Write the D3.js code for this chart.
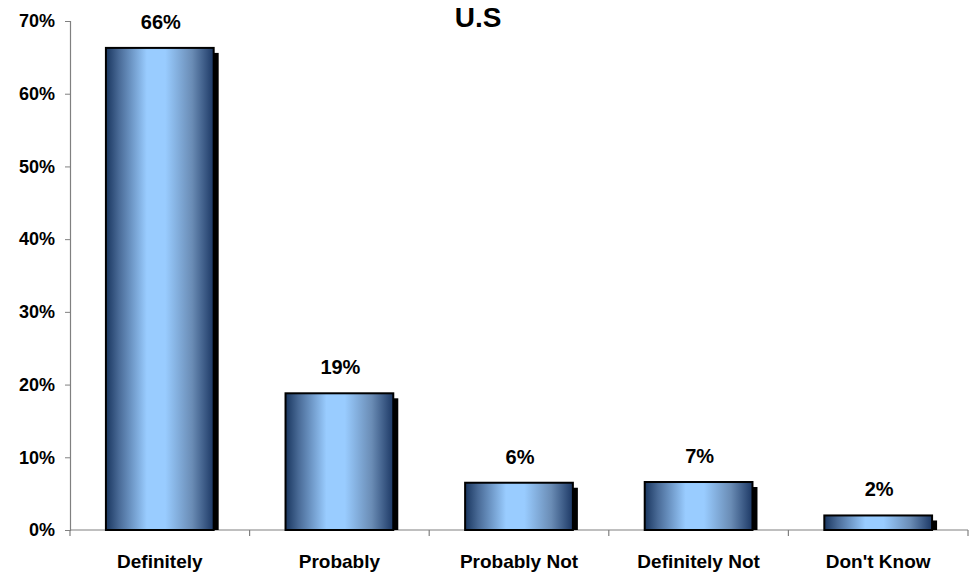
<!DOCTYPE html>
<html>
<head>
<meta charset="utf-8">
<script src="https://cdn.jsdelivr.net/npm/d3@7"></script>
<style>
html,body{margin:0;padding:0;background:#fff;}
svg{display:block;font-family:"Liberation Sans",Arial,sans-serif;font-weight:bold;}
</style>
</head>
<body>
<svg id="chart" width="970" height="574"></svg>
<script>
const title = "U.S";
const categories = ["Definitely", "Probably", "Probably Not", "Definitely Not", "Don't Know"];
const values = [66.3, 18.8, 6.5, 6.6, 2.0];
const valueLabels = ["66%", "19%", "6%", "7%", "2%"];
const yTicks = [0, 10, 20, 30, 40, 50, 60, 70];

const svg = d3.select("#chart");
const margin = {left: 70, right: 2, top: 21, bottom: 44};
const W = 970, H = 574;
const x0 = margin.left, x1 = W - margin.right;
const y0 = H - margin.bottom, y1 = margin.top;

const x = d3.scaleBand().domain(categories).range([x0, x1]).paddingInner(0.4).paddingOuter(0.2);
const xTickScale = d3.scaleLinear().domain([0, categories.length]).range([x0, x1]);
const y = d3.scaleLinear().domain([0, 70]).range([y0, y1]);

const defs = svg.append("defs");
const grad = defs.append("linearGradient").attr("id", "barGrad").attr("x1", "0").attr("x2", "1").attr("y1", "0").attr("y2", "0");
[[0, "#19365f"], [0.12, "#496a96"], [0.38, "#99ccff"], [0.55, "#99ccff"], [0.8, "#6a8cb5"], [1, "#1c3865"]]
  .forEach(([o, c]) => grad.append("stop").attr("offset", o).attr("stop-color", c));
defs.append("clipPath").attr("id", "plotClip").append("rect")
  .attr("x", x0).attr("y", 0).attr("width", x1 - x0).attr("height", y0);

// Title
svg.append("text").attr("x", 478).attr("y", 27).attr("text-anchor", "middle")
  .attr("font-size", 28).attr("fill", "#000").text(title);

// Y axis
const yAxis = svg.append("g").attr("transform", `translate(${x0},0)`)
  .call(d3.axisLeft(y).tickValues(yTicks).tickFormat(d => d + "%").tickSize(5).tickPadding(10));
yAxis.select(".domain").attr("stroke", "#808080").attr("stroke-width", 1.2);
yAxis.selectAll(".tick line").attr("stroke", "#808080");
yAxis.selectAll(".tick text").attr("font-size", 18).attr("font-weight", "bold")
  .attr("font-family", "'Liberation Sans',Arial,sans-serif").attr("fill", "#000");

// X axis line and ticks
const xg = svg.append("g");
xg.append("line").attr("x1", x0).attr("x2", x1).attr("y1", y0).attr("y2", y0)
  .attr("stroke", "#808080").attr("stroke-width", 1.2);
xg.selectAll("line.tk").data(d3.range(categories.length + 1)).enter().append("line")
  .attr("class", "tk")
  .attr("x1", d => xTickScale(d)).attr("x2", d => xTickScale(d))
  .attr("y1", y0).attr("y2", y0 + 6).attr("stroke", "#808080").attr("stroke-width", 1.2);
xg.selectAll("text.cat").data(categories).enter().append("text")
  .attr("class", "cat")
  .attr("x", d => x(d) + x.bandwidth() / 2).attr("y", 568)
  .attr("text-anchor", "middle").attr("font-size", 19).attr("fill", "#000").text(d => d);

// Shadows
const bars = svg.append("g");
bars.selectAll("rect.shadow").data(values).enter().append("rect")
  .attr("class", "shadow").attr("clip-path", "url(#plotClip)")
  .attr("x", (d, i) => x(categories[i]) + 5).attr("y", d => y(d) + 5)
  .attr("width", x.bandwidth()).attr("height", d => y0 - y(d))
  .attr("fill", "#000");
// Bars
bars.selectAll("rect.bar").data(values).enter().append("rect")
  .attr("class", "bar")
  .attr("x", (d, i) => x(categories[i])).attr("y", d => y(d))
  .attr("width", x.bandwidth()).attr("height", d => y0 - y(d))
  .attr("fill", "url(#barGrad)").attr("stroke", "#000").attr("stroke-width", 2);

// Value labels
svg.selectAll("text.val").data(values).enter().append("text")
  .attr("class", "val")
  .attr("x", (d, i) => x(categories[i]) + x.bandwidth() / 2 + 1)
  .attr("y", d => y(d) - 19)
  .attr("text-anchor", "middle").attr("font-size", 20).attr("fill", "#000")
  .text((d, i) => valueLabels[i]);
</script>
</body>
</html>
